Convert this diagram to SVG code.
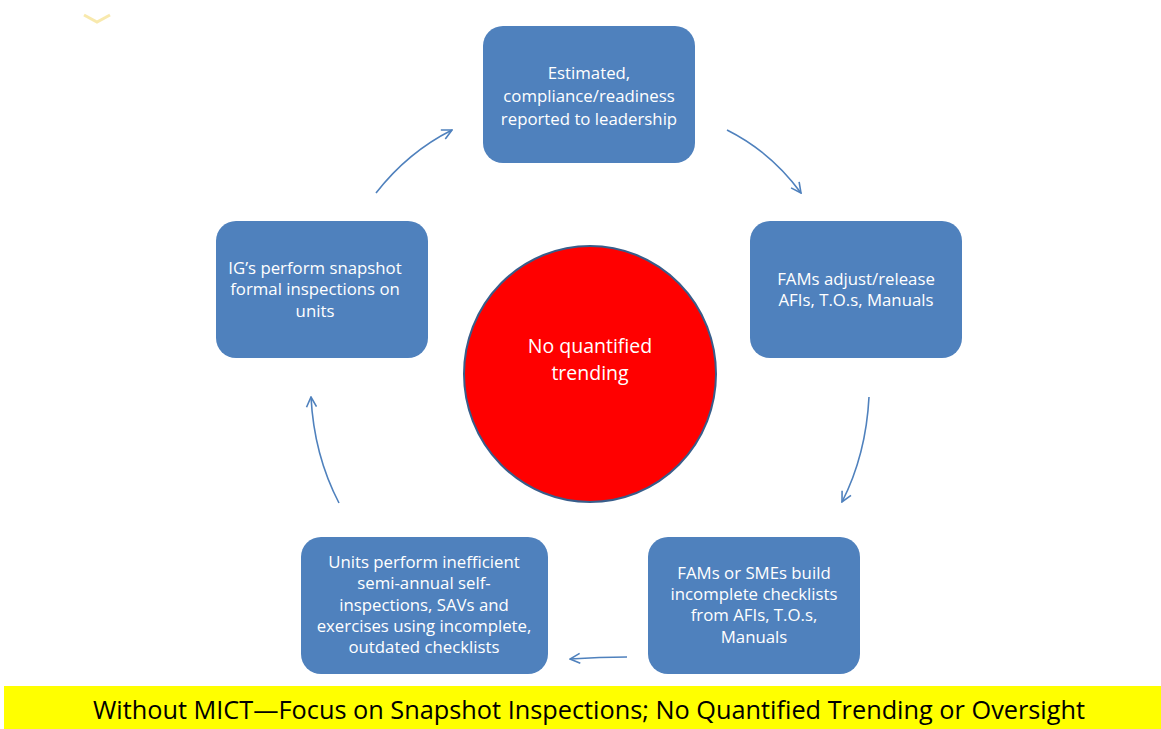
<svg xmlns="http://www.w3.org/2000/svg" width="1161" height="729" viewBox="0 0 1161 729">
<style>
.box{fill:#4F81BD;}
.t{font-family:"Open Sans","Liberation Sans",Arial,sans-serif;font-size:16.8px;fill:#fff;text-anchor:middle;}
.c{fill:none;stroke:#4F81BD;stroke-width:1.6;marker-end:url(#ah);}
</style>
<defs>
<marker id="ah" viewBox="0 0 12 12" refX="11" refY="6" markerWidth="12" markerHeight="12" markerUnits="userSpaceOnUse" orient="auto">
<path d="M1,1 L11,6 L1,11" fill="none" stroke="#4F81BD" stroke-width="1.6"/>
</marker>
</defs>
<rect width="1161" height="729" fill="#fff"/>
<polyline points="84,15 97,22 110,15" fill="none" stroke="#F5E08A" stroke-width="3" opacity="0.7"/>
<g id="connectors">
<path class="c" d="M376,193 Q408,152 452,130"/>
<path class="c" d="M727,130 Q771,152 801,193"/>
<path class="c" d="M869,397 Q866,455 842,502"/>
<path class="c" d="M627,657 Q600,657 570,659"/>
<path class="c" d="M339,503 Q314,455 311,397"/>
</g>
<g id="n-top">
<rect class="box" x="483" y="26" width="212" height="137" rx="20"/>
<text class="t" x="589" y="79">Estimated,</text>
<text class="t" x="589" y="102">compliance/readiness</text>
<text class="t" x="589" y="125">reported to leadership</text>
</g>
<g id="n-right">
<rect class="box" x="750" y="221" width="212" height="137" rx="20"/>
<text class="t" x="856" y="285">FAMs adjust/release</text>
<text class="t" x="856" y="306">AFIs, T.O.s, Manuals</text>
</g>
<g id="n-bottom-right">
<rect class="box" x="648" y="537" width="212" height="137" rx="20"/>
<text class="t" x="754" y="579">FAMs or SMEs build</text>
<text class="t" x="754" y="600">incomplete checklists</text>
<text class="t" x="754" y="621">from AFIs, T.O.s,</text>
<text class="t" x="754" y="643">Manuals</text>
</g>
<g id="n-bottom-left">
<rect class="box" x="301" y="537" width="247" height="137" rx="20"/>
<text class="t" x="424" y="568">Units perform inefficient</text>
<text class="t" x="424" y="589">semi-annual self-</text>
<text class="t" x="424" y="611">inspections, SAVs and</text>
<text class="t" x="424" y="632">exercises using incomplete,</text>
<text class="t" x="424" y="653">outdated checklists</text>
</g>
<g id="n-left">
<rect class="box" x="216" y="221" width="212" height="137" rx="20"/>
<text class="t" x="315" y="274">IG’s perform snapshot</text>
<text class="t" x="315" y="295">formal inspections on</text>
<text class="t" x="315" y="317">units</text>
</g>
<g id="n-center">
<ellipse cx="590" cy="374" rx="126" ry="128" fill="#FF0000" stroke="#385D8A" stroke-width="2"/>
<text class="t" x="590" y="353" style="font-size:19.5px">No quantified</text>
<text class="t" x="590" y="380" style="font-size:19.5px">trending</text>
</g>
<g id="banner">
<rect x="4" y="686" width="1157" height="43" fill="#FFFF00"/>
<text x="589" y="719" style="font-family:'Open Sans','Liberation Sans',Arial,sans-serif;font-size:25.3px;fill:#000;text-anchor:middle">Without MICT—Focus on Snapshot Inspections; No Quantified Trending or Oversight</text>
</g>
</svg>
